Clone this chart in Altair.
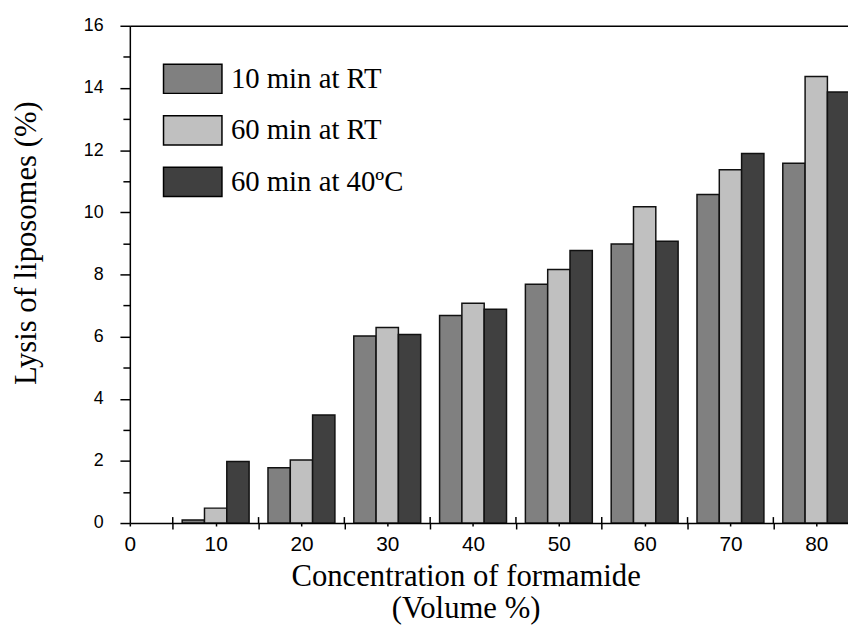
import altair as alt
import pandas as pd

# ---- data ----
concentrations = [10, 20, 30, 40, 50, 60, 70, 80]
series_names = ["10 min at RT", "60 min at RT", "60 min at 40ºC"]
lysis_10min_rt = [0.10, 1.78, 6.02, 6.68, 7.68, 8.98, 10.57, 11.58]
lysis_60min_rt = [0.48, 2.03, 6.29, 7.07, 8.16, 10.18, 11.37, 14.37]
lysis_60min_40c = [1.98, 3.48, 6.07, 6.88, 8.77, 9.07, 11.89, 13.87]
x_tick_values = [0, 5, 10, 15, 20, 25, 30, 35, 40, 45, 50, 55, 60, 65, 70, 75, 80]
between_group_ticks = [5, 15, 25, 35, 45, 55, 65, 75]
y_tick_values = list(range(0, 17))
bar_colors = ["#808080", "#c0c0c0", "#404040"]

rows = []
for i, (name, vals) in enumerate(zip(series_names, [lysis_10min_rt, lysis_60min_rt, lysis_60min_40c])):
    for c, v in zip(concentrations, vals):
        rows.append({"conc": c, "series": name, "idx": i, "value": v})
df = pd.DataFrame(rows)
tick_df = pd.DataFrame({"pos": between_group_ticks})

BAR_W = 2.6
PLOT_W = 725
PLOT_H = 502

x_scale = alt.Scale(domain=[0, 83.7], nice=False, zero=False)
y_scale = alt.Scale(domain=[0, 16], nice=False)

x_axis = alt.Axis(
    values=x_tick_values,
    tickSize={"condition": {"test": "datum.value % 10 === 5", "value": 6}, "value": 3},
    labelExpr="datum.value % 10 === 0 ? datum.label : ''",
    labelFont="Liberation Sans", labelFontSize=21, labelColor="black", labelPadding=8,
    labelFlush=False, labelOverlap=False,
    title=["Concentration of formamide", "(Volume %)"],
    titleFont="Liberation Serif", titleFontSize=31, titleFontWeight="normal",
    titleColor="black", titleLineHeight=32, titleX=339, titleY=39, titleBaseline="top",
    domainColor="black", domainWidth=1.5, tickColor="black", tickWidth=1.5, grid=False,
)

y_axis = alt.Axis(
    values=y_tick_values,
    tickSize={"condition": {"test": "datum.value % 2 === 1", "value": 7}, "value": 10},
    labelExpr="datum.value % 2 === 0 ? datum.label : ''",
    labelFont="Liberation Sans", labelFontSize=18, labelColor="black", labelPadding=17,
    labelFlush=False, labelOverlap=False,
    title="Lysis of liposomes (%)",
    titleFont="Liberation Serif", titleFontSize=31, titleFontWeight="normal",
    titleColor="black", titleX=-88, titleY=219,
    domainColor="black", domainWidth=1.5, tickColor="black", tickWidth=1.5, grid=False,
)

legend = alt.Legend(
    title=None, orient="none", legendX=48, legendY=38,
    symbolType="M-2,-1H2V1H-2Z", symbolSize=870,
    symbolStrokeColor="black", symbolStrokeWidth=1.5, symbolOpacity=1,
    labelFont="Liberation Serif", labelFontSize=29, labelColor="black", labelLimit=400,
    labelOffset=23, rowPadding=15, padding=0,
)

bars = alt.Chart(df).transform_calculate(
    x0=f"datum.conc + (datum.idx - 1.5) * {BAR_W}",
    x1=f"datum.conc + (datum.idx - 0.5) * {BAR_W}",
).mark_bar(clip=True, stroke="#111111", strokeWidth=1.5, opacity=1).encode(
    x=alt.X("x0:Q", scale=x_scale, axis=x_axis),
    x2="x1:Q",
    y=alt.Y("value:Q", scale=y_scale, axis=y_axis, stack=None),
    y2=alt.datum(0),
    color=alt.Color("series:N", scale=alt.Scale(domain=series_names, range=bar_colors), legend=legend),
)

top_border = alt.Chart(tick_df).mark_point(opacity=0).encode(
    x=alt.X("pos:Q", scale=x_scale,
            axis=alt.Axis(orient="top", labels=False, ticks=False, title=None,
                          domainColor="black", domainWidth=1.5, grid=False)),
)

inner_ticks = alt.Chart(tick_df).mark_rule(color="black", strokeWidth=1.5).encode(
    x=alt.X("pos:Q", scale=x_scale, axis=None),
    y=alt.value(PLOT_H - 6),
    y2=alt.value(PLOT_H),
)

chart = alt.layer(bars, top_border, inner_ticks).resolve_axis(x="independent").properties(
    width=PLOT_W, height=PLOT_H,
    padding={"left": 3, "top": 6, "right": 0, "bottom": 0},
    background="white",
).configure_view(stroke=None)

chart.save("out.html", embed_options={"renderer": "svg", "actions": False})
